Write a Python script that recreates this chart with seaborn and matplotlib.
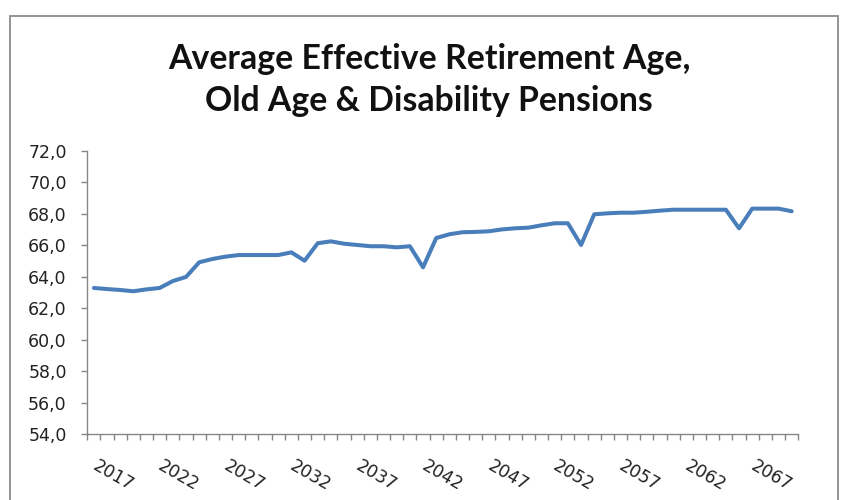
import matplotlib
matplotlib.use("Agg")
import matplotlib.pyplot as plt
import matplotlib.patches as mpatches
from matplotlib.ticker import FixedLocator, FuncFormatter
import numpy as np
import pandas as pd
import seaborn as sns

years = list(range(2017, 2071))
age = [63.28, 63.21, 63.15, 63.07, 63.19, 63.28, 63.72, 63.98, 64.91, 65.12,
       65.27, 65.37, 65.37, 65.37, 65.37, 65.54, 65.01, 66.12, 66.24, 66.09,
       66.01, 65.93, 65.93, 65.86, 65.93, 64.59, 66.45, 66.69, 66.82, 66.84,
       66.88, 67.00, 67.07, 67.11, 67.26, 67.39, 67.39, 66.01, 67.96, 68.02,
       68.06, 68.06, 68.12, 68.19, 68.25, 68.25, 68.25, 68.25, 68.25, 67.07,
       68.32, 68.32, 68.32, 68.15]
label_years = list(range(2017, 2071, 5))
y_ticks = [54, 56, 58, 60, 62, 64, 66, 68, 70, 72]
title = "Average Effective Retirement Age,\nOld Age & Disability Pensions"

df = pd.DataFrame({"year": years, "age": age})

sns.set_style("white")
plt.rcParams["font.family"] = ["DejaVu Sans"]

fig = plt.figure(figsize=(8.45, 5.0), dpi=100)
ax = fig.add_axes([87.3 / 845, 66 / 500, 711 / 845, 283.3 / 500])

sns.lineplot(data=df, x="year", y="age", ax=ax, color="#4A7EBB", linewidth=2.9,
             solid_joinstyle="round", solid_capstyle="round")

ax.set_xlim(years[0] - 0.5, years[-1] + 0.5)
ax.set_ylim(54, 72)
ax.set_xlabel("")
ax.set_ylabel("")

gray = "#868686"
for s in ["top", "right"]:
    ax.spines[s].set_visible(False)
for s in ["left", "bottom"]:
    ax.spines[s].set_color(gray)
    ax.spines[s].set_linewidth(1.0)

ax.yaxis.set_major_locator(FixedLocator(y_ticks))
ax.yaxis.set_major_formatter(FuncFormatter(lambda v, p: f"{v:.1f}".replace(".", ",")))
ax.tick_params(axis="y", which="major", direction="out", length=4.3, width=1.0,
               color=gray, pad=10.5, labelsize=12.5, labelcolor="#222222", left=True)

# x: minor ticks at category boundaries, labels every 5 years
bounds = [y - 0.5 for y in years] + [years[-1] + 0.5]
ax.xaxis.set_minor_locator(FixedLocator(bounds))
ax.xaxis.set_major_locator(FixedLocator(label_years))
ax.tick_params(axis="x", which="minor", direction="out", length=4.3, width=1.0,
               color=gray, bottom=True)
ax.tick_params(axis="x", which="major", length=0, pad=22, labelsize=12.5,
               labelcolor="#222222", bottom=True)
for lab in ax.get_xticklabels():
    lab.set_rotation(-30)
    lab.set_ha("left")
    lab.set_va("center")
    lab.set_rotation_mode("anchor")

fig.text(429 / 845, 1 - 80 / 500, title, ha="center", va="center",
         fontsize=24.3, fontweight="bold", family=["Lato", "DejaVu Sans"],
         linespacing=1.35, color="#111111")

border = mpatches.Rectangle((10 / 845, -0.05), 828 / 845, 1.05 - 16 / 500,
                            transform=fig.transFigure, fill=False,
                            edgecolor="#8c8c8c", linewidth=1.3)
fig.patches.append(border)

fig.savefig("out.png", dpi=100)
